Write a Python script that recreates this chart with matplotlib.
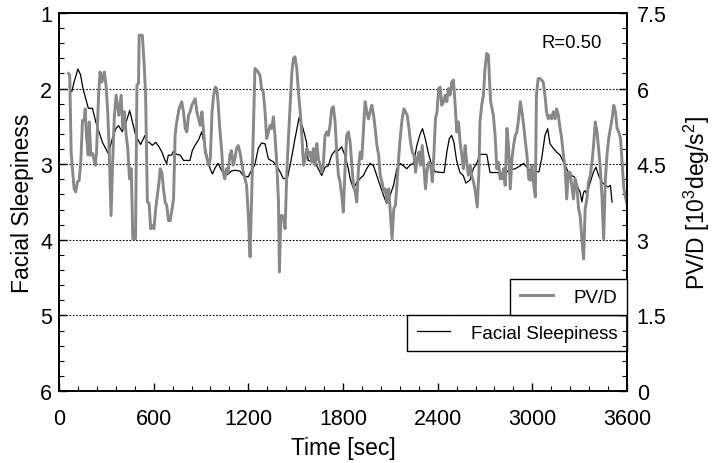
import matplotlib
matplotlib.use('Agg')
import matplotlib.pyplot as plt
from matplotlib.ticker import MultipleLocator

plt.rcParams['font.family'] = ['Liberation Sans', 'DejaVu Sans']
plt.rcParams['mathtext.fontset'] = 'custom'
plt.rcParams['mathtext.rm'] = 'Liberation Sans'
plt.rcParams['mathtext.it'] = 'Liberation Sans'

# Facial sleepiness (left axis, inverted)
fs_time = [64, 81, 96, 120, 137, 152, 169, 186, 212, 233, 253, 275, 313, 338, 360, 377, 401,
           423, 448, 465, 486, 517, 545, 554, 571, 592, 613, 634, 652, 672, 682, 693, 714, 725,
           746, 768, 789, 830, 845, 862, 884, 905, 922, 937, 958, 973, 989, 1008, 1030, 1051,
           1072, 1093, 1114, 1146, 1167, 1199, 1220, 1241, 1263, 1284, 1306, 1327, 1359, 1379,
           1401, 1422, 1447, 1469, 1496, 1522, 1547, 1569, 1579, 1611, 1633, 1665, 1686, 1707,
           1728, 1750, 1771, 1791, 1812, 1834, 1845, 1866, 1887, 1908, 1929, 1950, 1972, 1993,
           2014, 2035, 2056, 2077, 2099, 2120, 2141, 2162, 2183, 2204, 2226, 2247, 2268, 2289,
           2304, 2321, 2342, 2363, 2384, 2426, 2441, 2458, 2474, 2488, 2503, 2520, 2541, 2562,
           2579, 2605, 2626, 2647, 2668, 2711, 2732, 2775, 2828, 2849, 2871, 2892, 2924, 2945,
           2966, 2997, 3028, 3042, 3059, 3080, 3097, 3112, 3133, 3154, 3176, 3197, 3218, 3229,
           3250, 3267, 3282, 3303, 3314, 3325, 3335, 3346, 3356, 3367, 3388, 3403, 3420, 3442,
           3463, 3480, 3495, 3505]
fs_level = [1.98, 2.04, 1.91, 1.74, 1.82, 2.00, 2.13, 2.26, 2.26, 2.44, 2.57, 2.71, 2.86, 2.66,
            2.53, 2.49, 2.57, 2.46, 2.29, 2.44, 2.62, 2.74, 2.62, 2.71, 2.71, 2.75, 2.71, 2.77,
            2.84, 2.95, 2.99, 2.88, 2.88, 2.83, 2.87, 2.88, 2.95, 2.95, 2.82, 2.75, 2.68, 2.57,
            2.75, 2.88, 3.06, 3.13, 3.05, 2.99, 3.08, 3.15, 3.13, 3.09, 3.08, 3.09, 3.15, 3.17,
            3.08, 3.01, 2.79, 2.72, 2.73, 2.93, 2.97, 3.02, 3.10, 3.19, 3.19, 2.97, 2.66, 2.38,
            2.53, 2.71, 2.95, 2.97, 3.02, 3.15, 3.04, 3.02, 2.88, 2.82, 2.82, 2.77, 2.88, 3.06,
            3.19, 3.32, 3.24, 3.19, 3.15, 3.06, 2.99, 3.02, 3.15, 3.28, 3.41, 3.52, 3.41, 3.28,
            3.06, 2.99, 3.02, 3.06, 3.01, 2.99, 2.75, 2.60, 2.53, 2.66, 2.86, 3.02, 3.10, 3.11,
            3.11, 2.84, 2.66, 2.62, 2.71, 2.95, 3.11, 3.15, 3.25, 3.21, 3.06, 2.99, 2.87, 2.87,
            3.11, 3.11, 3.13, 3.08, 3.07, 3.06, 3.02, 2.99, 3.04, 3.11, 3.10, 3.10, 2.93, 2.62,
            2.53, 2.73, 2.79, 2.84, 2.88, 2.97, 3.06, 3.11, 3.15, 3.17, 3.28, 3.37, 3.50, 3.37,
            3.35, 3.41, 3.32, 3.24, 3.10, 3.04, 3.15, 3.24, 3.28, 3.30, 3.28, 3.50]

# PV/D (right axis)
pvd_time = [60, 68, 77, 85, 96, 106, 117, 128, 138, 149, 160, 166, 174, 185, 192, 202, 213, 230,
            238, 251, 260, 272, 287, 298, 309, 319, 330, 340, 351, 362, 379, 394, 404, 415, 426,
            436, 447, 458, 468, 485, 494, 504, 508, 528, 539, 549, 560, 571, 581, 592, 602, 613,
            634, 641, 652, 662, 673, 683, 694, 705, 715, 726, 736, 746, 761, 778, 789, 800, 810,
            821, 831, 842, 853, 863, 874, 885, 895, 906, 917, 927, 938, 948, 959, 970, 980, 991,
            1000, 1008, 1019, 1030, 1040, 1051, 1062, 1072, 1083, 1093, 1104, 1115, 1125, 1136,
            1147, 1157, 1168, 1179, 1189, 1200, 1211, 1221, 1232, 1242, 1253, 1263, 1274, 1284,
            1295, 1306, 1316, 1327, 1338, 1348, 1359, 1370, 1380, 1391, 1397, 1406, 1416, 1423,
            1433, 1444, 1454, 1465, 1476, 1486, 1496, 1507, 1519, 1529, 1540, 1550, 1561, 1571,
            1581, 1592, 1602, 1613, 1623, 1634, 1644, 1655, 1665, 1676, 1686, 1697, 1707, 1718,
            1728, 1739, 1750, 1760, 1771, 1781, 1792, 1802, 1813, 1823, 1834, 1845, 1855, 1866,
            1877, 1887, 1898, 1909, 1919, 1930, 1940, 1951, 1962, 1972, 1983, 1994, 2004, 2015,
            2026, 2036, 2047, 2058, 2068, 2079, 2090, 2100, 2111, 2122, 2132, 2143, 2154, 2164,
            2175, 2186, 2196, 2207, 2218, 2228, 2239, 2250, 2260, 2271, 2281, 2291, 2302, 2313,
            2323, 2334, 2345, 2355, 2366, 2376, 2386, 2396, 2406, 2416, 2426, 2437, 2447, 2458,
            2468, 2479, 2489, 2500, 2511, 2521, 2532, 2542, 2553, 2563, 2574, 2584, 2595, 2606,
            2616, 2627, 2636, 2651, 2662, 2668, 2679, 2690, 2700, 2711, 2722, 2728, 2736, 2753,
            2764, 2775, 2785, 2796, 2807, 2817, 2828, 2839, 2849, 2860, 2871, 2881, 2892, 2902,
            2913, 2924, 2934, 2945, 2956, 2966, 2977, 2988, 2998, 3009, 3019, 3026, 3037,
            3048, 3059, 3069, 3080, 3090, 3101, 3112, 3122, 3133, 3144, 3154, 3165, 3176, 3186,
            3197, 3208, 3218, 3229, 3239, 3250, 3261, 3271, 3282, 3293, 3303, 3314, 3325, 3335,
            3346, 3356, 3367, 3378, 3388, 3399, 3410, 3420, 3431, 3442, 3452, 3463, 3473, 3484,
            3495, 3505, 3516, 3527, 3537, 3548, 3559, 3569, 3580, 3600]
pvd_value = [6.30, 6.26, 4.74, 4.41, 4.01, 3.95, 4.15, 4.18, 4.54, 5.37, 5.37, 5.60, 5.07, 4.68,
             5.34, 4.68, 4.71, 4.48, 4.74, 5.87, 6.33, 6.13, 6.33, 6.07, 5.54, 4.68, 3.48, 4.54,
             5.47, 5.87, 5.47, 5.87, 5.21, 5.54, 5.07, 4.81, 4.21, 4.41, 3.02, 3.02, 6.07, 6.10,
             7.06, 7.06, 6.53, 5.87, 3.75, 3.72, 3.22, 3.28, 3.22, 3.62, 4.15, 4.41, 4.34, 4.01,
             3.75, 3.68, 3.38, 3.38, 3.58, 3.81, 5.07, 5.34, 5.60, 5.74, 5.54, 5.21, 5.14, 5.47,
             5.54, 5.67, 5.74, 5.80, 5.54, 5.40, 5.27, 5.54, 5.14, 4.74, 4.61, 4.48, 4.61, 5.54,
             5.87, 6.03, 6.00, 5.74, 5.21, 4.81, 4.34, 4.21, 4.41, 4.34, 4.68, 4.77, 4.48, 4.61,
             4.81, 4.87, 4.74, 4.54, 4.34, 4.21, 4.08, 3.48, 2.66, 3.88, 5.21, 6.40, 6.36, 6.33,
             6.26, 6.00, 5.93, 5.54, 5.01, 5.14, 5.27, 5.21, 5.44, 5.01, 4.54, 3.75, 2.36, 3.48,
             3.48, 3.42, 3.22, 4.34, 5.01, 5.67, 6.33, 6.60, 6.63, 6.40, 5.87, 5.54, 5.01, 4.48,
             4.61, 4.81, 4.68, 4.74, 4.54, 4.81, 4.48, 4.91, 4.61, 4.48, 4.34, 4.54, 5.07, 5.14,
             5.07, 5.27, 5.60, 5.64, 5.34, 4.74, 4.28, 4.15, 3.88, 3.55, 4.41, 5.07, 5.14, 4.94,
             4.54, 4.08, 3.95, 3.75, 4.41, 4.74, 4.61, 5.21, 5.74, 5.54, 5.40, 5.54, 5.67, 5.47,
             5.21, 4.87, 4.68, 4.28, 4.15, 3.95, 4.01, 3.75, 4.01, 3.55, 3.02, 3.62, 3.68, 4.15,
             4.68, 5.07, 5.40, 5.60, 5.54, 5.47, 5.21, 4.94, 4.74, 4.68, 4.34, 4.61, 4.74, 4.48,
             4.87, 4.41, 4.01, 4.41, 4.54, 4.48, 4.15, 4.68, 5.40, 5.54, 6.00, 6.03, 5.67, 5.74,
             5.87, 5.74, 6.00, 5.87, 6.13, 6.17, 5.67, 5.14, 5.34, 4.94, 4.68, 4.41, 4.87, 4.54,
             4.28, 4.48, 4.28, 4.15, 4.01, 3.65, 4.41, 5.34, 5.67, 5.87, 6.40, 6.70, 6.66, 6.20,
             5.74, 5.47, 5.07, 4.41, 4.54, 4.21, 4.21, 4.41, 4.08, 5.21, 4.87, 4.01, 4.61, 4.87,
             5.07, 5.14, 5.40, 5.74, 5.54, 5.27, 4.94, 4.68, 4.21, 4.18, 4.48, 4.08, 3.85, 5.87,
             6.20, 6.20, 6.17, 6.13, 5.87, 5.54, 5.40, 5.47, 5.40, 5.54, 5.40, 5.60, 5.47, 5.21,
             5.01, 4.68, 4.41, 3.81, 4.34, 4.34, 4.08, 3.81, 4.21, 4.08, 3.62, 3.48, 3.02, 2.62,
             3.62, 3.81, 4.15, 4.28, 4.54, 4.87, 5.34, 5.14, 4.81, 4.41, 3.81, 3.02, 4.21, 4.68,
             5.01, 5.21, 5.40, 5.67, 5.54, 5.21, 5.14, 5.01, 4.54, 4.01, 3.70]

grid_levels = [2, 3, 4, 5]

fig = plt.figure(figsize=(7.16, 4.64), dpi=100)
ax = fig.add_axes([0.0824, 0.1552, 0.7933, 0.8146])
ax2 = ax.twinx()

ax.plot(fs_time, fs_level, color='black', linewidth=0.9, label='Facial Sleepiness')
ax2.plot(pvd_time, pvd_value, color='#888888', linewidth=2.1, label='PV/D')

for level in grid_levels:
    ax.axhline(level, color='black', linewidth=0.8, linestyle=(0, (1.5, 1.5)), zorder=1)

ax.set_xlim(0, 3600)
ax.set_ylim(6, 1)
ax2.set_ylim(0, 7.5)

ax.xaxis.set_major_locator(MultipleLocator(600))
ax.xaxis.set_minor_locator(MultipleLocator(120))
ax.yaxis.set_major_locator(MultipleLocator(1))
ax.yaxis.set_minor_locator(MultipleLocator(0.2))
ax2.yaxis.set_major_locator(MultipleLocator(1.5))
ax2.yaxis.set_minor_locator(MultipleLocator(0.3))
ax2.yaxis.set_major_formatter(plt.FuncFormatter(lambda v, p: '{0:g}'.format(v)))

for a in (ax, ax2):
    a.tick_params(which='major', direction='in', length=6, width=1, labelsize=15.5)
    a.tick_params(which='minor', direction='in', length=3.5, width=0.8)
    for sp in a.spines.values():
        sp.set_linewidth(1.2)
ax.tick_params(axis='x', which='both', top=False, pad=12)
ax.tick_params(axis='y', which='both', right=False, pad=5)
ax2.tick_params(axis='y', which='both', pad=7)

ax.set_xlabel('Time [sec]', fontsize=16.5, labelpad=5)
ax.set_ylabel('Facial Sleepiness', fontsize=16.5, labelpad=4)
ax2.set_ylabel(r'PV/D [10$^3$deg/s$^2$]', fontsize=16.5, labelpad=11)

ax.text(0.903, 0.923, 'R=0.50', transform=ax.transAxes, ha='center', va='center', fontsize=13.3)

leg_kw = dict(fontsize=13.5, frameon=True, fancybox=False, framealpha=1, edgecolor='black',
              handlelength=1.8, handletextpad=1.1, borderpad=0.5, borderaxespad=0)
leg2 = ax2.legend(loc='lower right', bbox_to_anchor=(1.0, 0.201), **leg_kw)
leg2.get_frame().set_linewidth(1.0)
leg1 = ax.legend(loc='upper right', bbox_to_anchor=(1.0, 0.201), **leg_kw)
leg1.get_frame().set_linewidth(1.0)

fig.savefig('out.png', dpi=100)
